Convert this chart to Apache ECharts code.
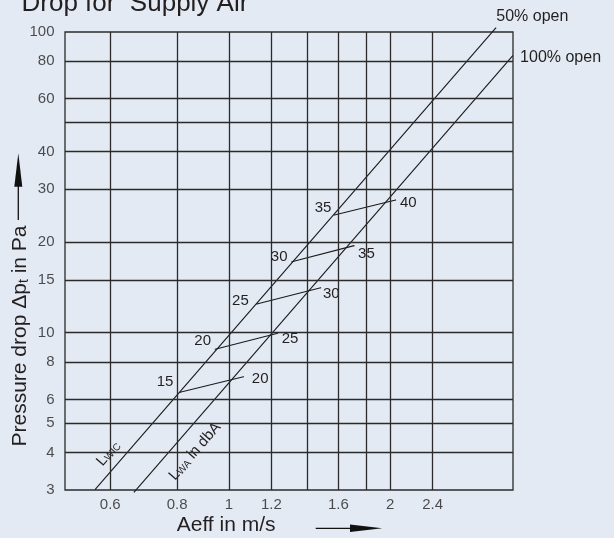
<!DOCTYPE html>
<html>
<head>
<meta charset="utf-8">
<script src="https://cdn.jsdelivr.net/npm/echarts@6/dist/echarts.min.js"></script>
<style>
html,body{margin:0;padding:0;background:#e3eaf3;}
#c{width:614px;height:538px;}
</style>
</head>
<body>
<div id="c"></div>
<script>
// ---- data ----
const xRange = [0.494, 3.39];
const yRange = [3, 100];
const xGridValues = [0.6, 0.8, 1, 1.2, 1.4, 1.6, 1.8, 2, 2.4];
const xTickLabels = [0.6, 0.8, 1, 1.2, 1.6, 2, 2.4];
const yGridValues = [4, 5, 6, 8, 10, 15, 20, 30, 40, 50, 60, 80];
const yTickLabels = [3, 4, 5, 6, 8, 10, 15, 20, 30, 40, 60, 80, 100];
const open50 = [[0.563, 3.02], [3.149, 103.2]];
const open100 = [[0.665, 2.954], [3.384, 83.3]];
const noiseAt50 = [15, 20, 25, 30, 35];
const noiseAt100 = [20, 25, 30, 35, 40];
const noiseStart = [[0.810, 6.34], [0.942, 8.81], [1.127, 12.47], [1.310, 17.23], [1.573, 24.64]];
const noiseEnd = [[1.064, 7.14], [1.233, 9.96], [1.483, 14.12], [1.712, 19.48], [2.047, 27.64]];

// ---- styles ----
const FONT = 'Liberation Sans, Arial, Helvetica, sans-serif';
const TXT = '#231f20';
const LINE = '#1a1a1a';
const GRID = '#2b2b2b';
const startLabelOffset = [[-15, -10], [-12.5, -8.3], [-16.4, -3], [-12.7, -4.7], [-11.3, -7.5]];
const endLabelOffset = [[16.7, 2.3], [12.3, 5.2], [10.6, 6.3], [12.3, 7.8], [12.6, 3.3]];

const chart = echarts.init(document.getElementById('c'), null, {renderer: 'canvas'});

const pointLabel = (text, offset, size) => ({
  show: true, formatter: text, position: 'inside', offset: offset,
  color: TXT, fontSize: size || 15, fontFamily: FONT
});

const noiseSeries = noiseStart.map((s, i) => ({
  type: 'line',
  symbol: 'circle', symbolSize: 1,
  itemStyle: {color: LINE},
  lineStyle: {color: LINE, width: 1.1},
  clip: false, silent: true, z: 3,
  data: [
    {value: s, label: pointLabel(String(noiseAt50[i]), startLabelOffset[i])},
    {value: noiseEnd[i], label: pointLabel(String(noiseAt100[i]), endLabelOffset[i])}
  ]
}));

const option = {
  animation: false,
  backgroundColor: '#e3eaf3',
  textStyle: {fontFamily: FONT},
  grid: {left: 65, right: 101, top: 32, bottom: 48, show: true, borderColor: GRID, borderWidth: 1.3, backgroundColor: 'transparent'},
  xAxis: {
    type: 'log', logBase: 10, min: xRange[0], max: xRange[1],
    axisLine: {show: false}, axisTick: {show: false}, axisLabel: {show: false},
    splitLine: {show: false}, minorTick: {show: false}, minorSplitLine: {show: false}
  },
  yAxis: {
    type: 'log', logBase: 10, min: yRange[0], max: yRange[1],
    axisLine: {show: false}, axisTick: {show: false}, axisLabel: {show: false},
    splitLine: {show: false}, minorTick: {show: false}, minorSplitLine: {show: false}
  },
  series: [
    {
      name: '50% open', type: 'line',
      symbol: 'circle', symbolSize: 1, itemStyle: {color: LINE},
      lineStyle: {color: LINE, width: 1.1}, clip: false, silent: true, z: 3,
      data: [
        {value: open50[0]},
        {value: open50[1], label: pointLabel('50% open', [36.5, -11], 16)}
      ],
      markLine: {
        silent: true, symbol: 'none', animation: false,
        label: {show: false},
        lineStyle: {color: GRID, width: 1.3, type: 'solid'},
        emphasis: {disabled: true},
        data: xGridValues.map(v => ({xAxis: v})).concat(yGridValues.map(v => ({yAxis: v})))
      }
    },
    {
      name: '100% open', type: 'line',
      symbol: 'circle', symbolSize: 1, itemStyle: {color: LINE},
      lineStyle: {color: LINE, width: 1.1}, clip: false, silent: true, z: 3,
      data: [
        {value: open100[0]},
        {value: open100[1], label: pointLabel('100% open', [48, 2], 16)}
      ]
    },
    ...noiseSeries,
    {
      name: 'xTicks', type: 'scatter', symbolSize: 1, clip: false, silent: true,
      itemStyle: {color: 'rgba(0,0,0,0)'},
      label: {show: true, position: 'bottom', distance: 7, color: TXT, fontSize: 15, fontFamily: FONT,
        formatter: p => String(p.value[0])},
      data: xTickLabels.map(v => [v, yRange[0]])
    },
    {
      name: 'yTicks', type: 'scatter', symbolSize: 1, clip: false, silent: true,
      itemStyle: {color: 'rgba(0,0,0,0)'},
      label: {show: true, position: 'left', distance: 10, color: TXT, fontSize: 15, fontFamily: FONT,
        formatter: p => String(p.value[1])},
      data: yTickLabels.map(v => [xRange[0], v])
    }
  ],
  graphic: [
    {type: 'text', x: 21.5, y: 3.6, silent: true,
      style: {text: 'Drop for  Supply Air', fontSize: 26, fontFamily: FONT, fill: TXT, align: 'left', verticalAlign: 'middle'}},
    {type: 'text', x: 176.7, y: 525.5, silent: true,
      style: {text: 'Aeff in m/s', fontSize: 21, fontFamily: FONT, fill: TXT, align: 'left', verticalAlign: 'middle'}},
    {type: 'line', silent: true, shape: {x1: 315.7, y1: 528.3, x2: 352, y2: 528.3}, style: {stroke: '#111', lineWidth: 1.3}},
    {type: 'polygon', silent: true, shape: {points: [[350, 524.6], [382.3, 528.3], [350, 532]]}, style: {fill: '#111'}},
    {type: 'text', x: 20.5, y: 336, rotation: Math.PI / 2, silent: true,
      style: {text: '{a|Pressure drop Δp}{b|t}{a| in Pa}', align: 'center', verticalAlign: 'middle', fill: TXT,
        rich: {a: {fontSize: 21, fontFamily: FONT, fill: TXT}, b: {fontSize: 14, fontFamily: FONT, fill: TXT, verticalAlign: 'bottom'}}}},
    {type: 'line', silent: true, shape: {x1: 18.3, y1: 220, x2: 18.3, y2: 185}, style: {stroke: '#111', lineWidth: 1.3}},
    {type: 'polygon', silent: true, shape: {points: [[14.3, 186.7], [18.3, 153.3], [22.3, 186.7]]}, style: {fill: '#111'}},
    {type: 'text', x: 108.5, y: 453.5, rotation: 0.855, silent: true,
      style: {text: '{a|L}{b|WIC}', align: 'center', verticalAlign: 'middle', fill: TXT,
        rich: {a: {fontSize: 15, fontFamily: FONT, fill: TXT}, b: {fontSize: 10, fontFamily: FONT, fill: TXT, verticalAlign: 'bottom'}}}},
    {type: 'text', x: 195, y: 451.5, rotation: 0.855, silent: true,
      style: {text: '{a|L}{b|WA}{a| in dbA}', align: 'center', verticalAlign: 'middle', fill: TXT,
        rich: {a: {fontSize: 15, fontFamily: FONT, fill: TXT}, b: {fontSize: 10, fontFamily: FONT, fill: TXT, verticalAlign: 'bottom'}}}}
  ]
};

chart.setOption(option);
</script>
</body>
</html>
